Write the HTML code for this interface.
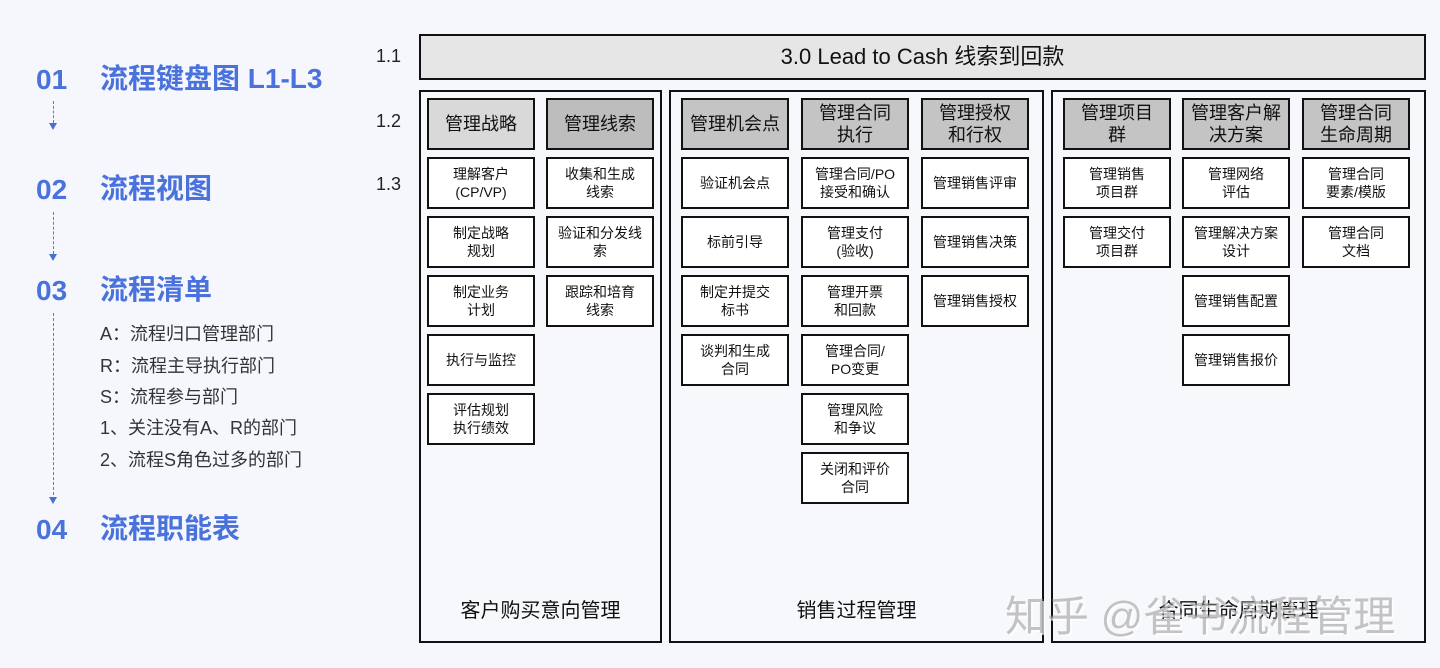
<!DOCTYPE html>
<html><head><meta charset="utf-8"><style>
body{margin:0;width:1440px;height:668px;background:#f5f7fc;position:relative;overflow:hidden;font-family:"Liberation Sans","Noto Sans CJK SC",sans-serif;}
.a{position:absolute;box-sizing:border-box;}
.b{position:absolute;box-sizing:border-box;border:2px solid #111;background:#fff;display:flex;align-items:center;justify-content:center;text-align:center;font-size:14px;line-height:18px;color:#111;width:108px;height:52px;}
.h{background:#cfcfcf;font-size:18px;line-height:22px;}
.g{position:absolute;box-sizing:border-box;border:2px solid #111;background:#f7f8fc;}
.gl{position:absolute;bottom:18px;left:0;right:0;text-align:center;font-size:20px;color:#111;}
.n{position:absolute;font-size:18px;color:#222;left:376px;}
.t{position:absolute;color:#4a72dc;font-weight:bold;font-size:28px;line-height:34px;}
.s{position:absolute;left:100px;font-size:18px;color:#333;}
.d{position:absolute;left:53px;border-left:1px dashed #5a7ad0;width:0;}
.ar{position:absolute;left:49px;width:0;height:0;border-left:4px solid transparent;border-right:4px solid transparent;border-top:7px solid #4a6fd0;}
</style></head><body>
<div class="t" style="left:36px;top:63px">01</div><div class="t" style="left:100px;top:62px">流程键盘图 L1-L3</div>
<div class="d" style="top:101px;height:22px"></div><div class="ar" style="top:123px"></div>
<div class="t" style="left:36px;top:173px">02</div><div class="t" style="left:100px;top:172px">流程视图</div>
<div class="d" style="top:212px;height:42px"></div><div class="ar" style="top:254px"></div>
<div class="t" style="left:36px;top:274px">03</div><div class="t" style="left:100px;top:273px">流程清单</div>
<div class="d" style="top:313px;height:182px"></div><div class="ar" style="top:497px"></div>
<div class="s" style="top:320px">A：流程归口管理部门</div>
<div class="s" style="top:352px">R：流程主导执行部门</div>
<div class="s" style="top:383px">S：流程参与部门</div>
<div class="s" style="top:414px">1、关注没有A、R的部门</div>
<div class="s" style="top:446px">2、流程S角色过多的部门</div>
<div class="t" style="left:36px;top:513px">04</div><div class="t" style="left:100px;top:512px">流程职能表</div>

<div class="n" style="top:46px">1.1</div><div class="n" style="top:111px">1.2</div><div class="n" style="top:174px">1.3</div>
<div class="a" style="left:419px;top:34px;width:1007px;height:46px;border:2px solid #111;background:#e6e6e6;text-align:center;line-height:42px;font-size:22px;color:#111">3.0 Lead to Cash 线索到回款</div>

<div class="g" style="left:419px;top:90px;width:243px;height:553px"><div class="gl">客户购买意向管理</div></div>
<div class="g" style="left:669px;top:90px;width:375px;height:553px"><div class="gl">销售过程管理</div></div>
<div class="g" style="left:1051px;top:90px;width:375px;height:553px"><div class="gl">合同生命周期管理</div></div>

<div class="b h" style="left:427px;top:98px;background:#d9d9d9">管理战略</div>
<div class="b h" style="left:546px;top:98px;background:#bdbdbd">管理线索</div>
<div class="b h" style="left:681px;top:98px;background:#c4c4c4">管理机会点</div>
<div class="b h" style="left:801px;top:98px;background:#c4c4c4">管理合同<br>执行</div>
<div class="b h" style="left:921px;top:98px;background:#c4c4c4">管理授权<br>和行权</div>
<div class="b h" style="left:1063px;top:98px;background:#c4c4c4">管理项目<br>群</div>
<div class="b h" style="left:1182px;top:98px;background:#c4c4c4">管理客户解<br>决方案</div>
<div class="b h" style="left:1302px;top:98px;background:#c4c4c4">管理合同<br>生命周期</div>

<div class="b" style="left:427px;top:157px">理解客户<br>(CP/VP)</div>
<div class="b" style="left:427px;top:216px">制定战略<br>规划</div>
<div class="b" style="left:427px;top:275px">制定业务<br>计划</div>
<div class="b" style="left:427px;top:334px">执行与监控</div>
<div class="b" style="left:427px;top:393px">评估规划<br>执行绩效</div>

<div class="b" style="left:546px;top:157px">收集和生成<br>线索</div>
<div class="b" style="left:546px;top:216px">验证和分发线<br>索</div>
<div class="b" style="left:546px;top:275px">跟踪和培育<br>线索</div>

<div class="b" style="left:681px;top:157px">验证机会点</div>
<div class="b" style="left:681px;top:216px">标前引导</div>
<div class="b" style="left:681px;top:275px">制定并提交<br>标书</div>
<div class="b" style="left:681px;top:334px">谈判和生成<br>合同</div>

<div class="b" style="left:801px;top:157px">管理合同/PO<br>接受和确认</div>
<div class="b" style="left:801px;top:216px">管理支付<br>(验收)</div>
<div class="b" style="left:801px;top:275px">管理开票<br>和回款</div>
<div class="b" style="left:801px;top:334px">管理合同/<br>PO变更</div>
<div class="b" style="left:801px;top:393px">管理风险<br>和争议</div>
<div class="b" style="left:801px;top:452px">关闭和评价<br>合同</div>

<div class="b" style="left:921px;top:157px">管理销售评审</div>
<div class="b" style="left:921px;top:216px">管理销售决策</div>
<div class="b" style="left:921px;top:275px">管理销售授权</div>

<div class="b" style="left:1063px;top:157px">管理销售<br>项目群</div>
<div class="b" style="left:1063px;top:216px">管理交付<br>项目群</div>

<div class="b" style="left:1182px;top:157px">管理网络<br>评估</div>
<div class="b" style="left:1182px;top:216px">管理解决方案<br>设计</div>
<div class="b" style="left:1182px;top:275px">管理销售配置</div>
<div class="b" style="left:1182px;top:334px">管理销售报价</div>

<div class="b" style="left:1302px;top:157px">管理合同<br>要素/模版</div>
<div class="b" style="left:1302px;top:216px">管理合同<br>文档</div>

<div class="a" style="left:1005px;top:583px;font-size:42px;color:rgba(150,150,150,0.55);text-shadow:2px 2px 0 rgba(255,255,255,0.7);white-space:nowrap">知乎 @雀书流程管理</div>
</body></html>
